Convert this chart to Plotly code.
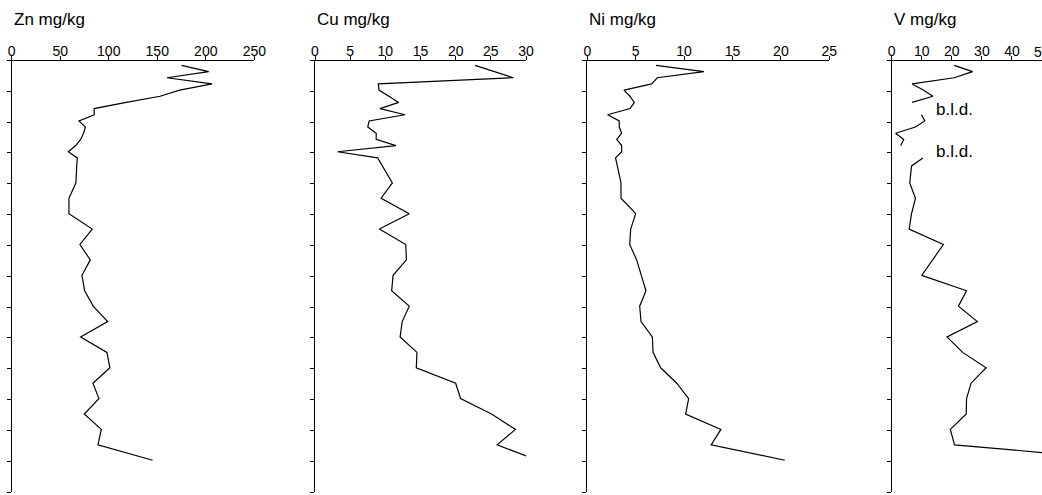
import plotly.graph_objects as go

W, H = 1042, 495

# depth in tick units (0 at top, 14 at bottom)
depth = [0.16, 0.36, 0.56, 0.76, 0.96, 1.16, 1.36, 1.56, 1.76, 1.96, 2.16, 2.36, 2.56, 2.76, 2.96, 3.16,
         3.42,
         3.97, 4.47, 4.97, 5.47, 5.97, 6.47, 6.97, 7.47, 7.97, 8.47, 8.97, 9.47, 9.97, 10.47, 10.97,
         11.47, 11.97, 12.47, 12.97]

zn = [175, 203, 160, 206.6, 173, 153, 118, 85, 85, 69.3, 76, 74, 71, 66, 58.3, 67.6,
      67,
      66.2, 59, 59, 83, 70.3, 81, 72.4, 75.2, 84, 98.9, 71, 98.1, 101.2, 83.7, 89.9, 74.8, 92.3, 88.9, 145.2]

cu = [22.75, 25.5, 28.2, 9.0, 9.1, 10.5, 11.9, 9.24, 12.8, 7.7, 7.5, 8.7, 8.7, 11.5, 3.2, 8.9,
      9.6,
      11.0, 9.4, 13.4, 9.15, 12.9, 13.0, 11.1, 10.9, 13.4, 12.4, 12.1, 14.5, 14.4, 20.0, 20.7, 25.1, 28.5, 25.9, 31.6]

ni = [7.1, 12.05, 7.23, 6.65, 3.79, 4.4, 4.86, 4.41, 2.1, 3.3, 3.3, 3.55, 3.04, 3.55, 3.55, 2.92,
      3.1,
      3.48, 3.48, 5.0, 4.48, 4.38, 5.1, 5.54, 6.06, 5.41, 5.55, 6.72, 6.79, 7.58, 9.24, 10.47, 10.16, 13.8, 12.8, 20.4]

v = [20.8, 26.9, 20.8, 6.8, 10.5, 13.7, 6.8, None, 9.9, 11.0, 7.9, 1.3, 4.0, 3.0, None, 10.4,
     6.6,
     6.0, 7.9, 6.6, 5.8, 17.2, 13.6, 10.0, 24.9, 22.2, 28.5, 18.4, 23.6, 31.4, 26.4, 24.9, 24.8, 19.5, 20.9, 79]

titles = ["Zn mg/kg", "Cu mg/kg", "Ni mg/kg", "V mg/kg"]
x_ranges = [[0, 250], [0, 30], [0, 25], [0, 50]]
x_dticks = [50, 5, 5, 10]
series = [zn, cu, ni, v]
bld_label = "b.l.d."
bld_depths = [1.6, 2.94]
edge_tick_label = "50"   # last V tick label, cut by the page edge

# pixel layout
x_left_px = [11.7, 315.0, 587.3, 891.7]
x_right_px = [254.3, 526.0, 829.3, 1042.0]
y_top_px, y_bot_px = 60.5, 492.0

FONT = "Liberation Sans, Arial, sans-serif"

fig = go.Figure()
for i, vals in enumerate(series):
    k = "" if i == 0 else str(i + 1)
    fig.add_trace(go.Scatter(x=vals, y=depth, mode="lines",
                             line=dict(color="black", width=1.2),
                             xaxis="x" + k, yaxis="y" + k,
                             connectgaps=False, showlegend=False, hoverinfo="skip"))

layout = dict(width=W, height=H, margin=dict(l=0, r=0, t=0, b=0, autoexpand=False),
              paper_bgcolor="white", plot_bgcolor="white", showlegend=False,
              font=dict(family=FONT, color="black"))

ydom = [1 - y_bot_px / H, 1 - y_top_px / H]
ann = []
for i in range(4):
    k = "" if i == 0 else str(i + 1)
    dom = [x_left_px[i] / W, min(1.0, x_right_px[i] / W)]
    layout["xaxis" + k] = dict(domain=dom, range=x_ranges[i], side="top",
                               anchor="y" + k, showline=True, linecolor="black", linewidth=1,
                               ticks="outside", ticklen=4, tickcolor="black", tickwidth=1,
                               dtick=x_dticks[i], tick0=0, showgrid=False, zeroline=False,
                               tickfont=dict(size=14, family=FONT, color="black"),
                               ticklabelstandoff=-6,
                               automargin=False, fixedrange=True)
    layout["yaxis" + k] = dict(domain=ydom, range=[14, 0], anchor="x" + k,
                               showline=True, linecolor="black", linewidth=1,
                               ticks="outside", ticklen=4, tickcolor="black", tickwidth=1,
                               dtick=1, tick0=0, showticklabels=False, showgrid=False,
                               zeroline=False, automargin=False, fixedrange=True)
    ann.append(dict(text=titles[i], xref="paper", yref="paper",
                    x=x_left_px[i] / W, y=1 - 19 / H, xanchor="left", yanchor="middle",
                    showarrow=False, font=dict(size=17, family=FONT, color="black")))

for d in bld_depths:
    ann.append(dict(text=bld_label, xref="paper", yref="y4",
                    x=934 / W, y=d, xanchor="left", yanchor="middle",
                    showarrow=False, font=dict(size=17, family=FONT, color="black")))

ann.append(dict(text=edge_tick_label, xref="x4", yref="paper", x=50, y=1 - 51.5 / H,
                xanchor="center", yanchor="middle", showarrow=False,
                font=dict(size=14, family=FONT, color="black")))

layout["annotations"] = ann
fig.update_layout(**layout)
fig.write_html("out.html")
